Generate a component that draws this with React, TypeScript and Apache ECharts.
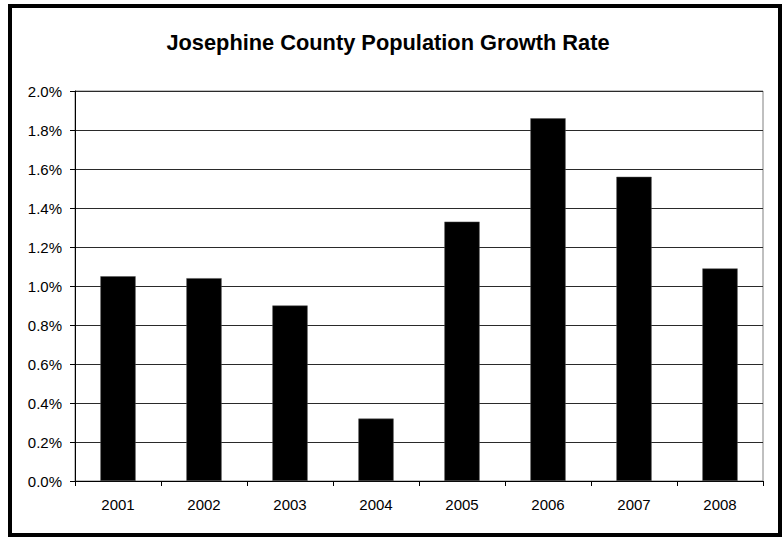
import React, { useEffect, useRef } from "react";
import * as echarts from "echarts";

const years = ["2001", "2002", "2003", "2004", "2005", "2006", "2007", "2008"];
// Annual population growth rate, in percent
const growthRate = [1.05, 1.04, 0.9, 0.32, 1.33, 1.86, 1.56, 1.09];
const yMin = 0;
const yMax = 2.0;
const yStep = 0.2;

const FONT = "'Liberation Sans', Arial, sans-serif";

export default function App() {
  const ref = useRef<HTMLDivElement>(null);

  useEffect(() => {
    if (!ref.current) return;
    const chart = echarts.init(ref.current, undefined, { renderer: "svg" });
    chart.setOption({
      animation: false,
      backgroundColor: "#ffffff",
      title: {
        text: "Josephine County Population Growth Rate",
        left: 383,
        textAlign: "center",
        top: 26,
        textStyle: {
          fontFamily: FONT,
          fontSize: 21.8,
          fontWeight: "bold",
          color: "#000",
        },
      },
      graphic: [
        {
          type: "rect",
          shape: { x: 10, y: 6, width: 770, height: 529 },
          style: { fill: "none", stroke: "#000", lineWidth: 4 },
          silent: true,
        },
      ],
      grid: {
        left: 75,
        right: 20,
        top: 91,
        bottom: 57,
        show: true,
        borderColor: "#808080",
        borderWidth: 1,
      },
      xAxis: {
        type: "category",
        data: years,
        boundaryGap: true,
        axisLine: { show: true, lineStyle: { color: "#000", width: 1 } },
        axisTick: {
          show: true,
          alignWithLabel: false,
          length: 5,
          lineStyle: { color: "#000" },
        },
        axisLabel: {
          fontFamily: FONT,
          fontSize: 15,
          color: "#000",
          margin: 16,
        },
      },
      yAxis: {
        type: "value",
        min: yMin,
        max: yMax,
        interval: yStep,
        axisLine: { show: true, lineStyle: { color: "#000", width: 1 } },
        axisTick: { show: true, length: 5, lineStyle: { color: "#000" } },
        axisLabel: {
          fontFamily: FONT,
          fontSize: 15,
          color: "#000",
          margin: 13,
          formatter: (v: number) => v.toFixed(1) + "%",
        },
        splitLine: { show: true, lineStyle: { color: "#2a2a2a", width: 1 } },
      },
      series: [
        {
          type: "bar",
          data: growthRate,
          barCategoryGap: "59%",
          itemStyle: { color: "#000", borderColor: "#555", borderWidth: 0.5 },
        },
      ],
    });
    return () => chart.dispose();
  }, []);

  return (
    <div
      ref={ref}
      style={{ position: "absolute", left: 0, top: 0, width: 783, height: 538 }}
    />
  );
}
